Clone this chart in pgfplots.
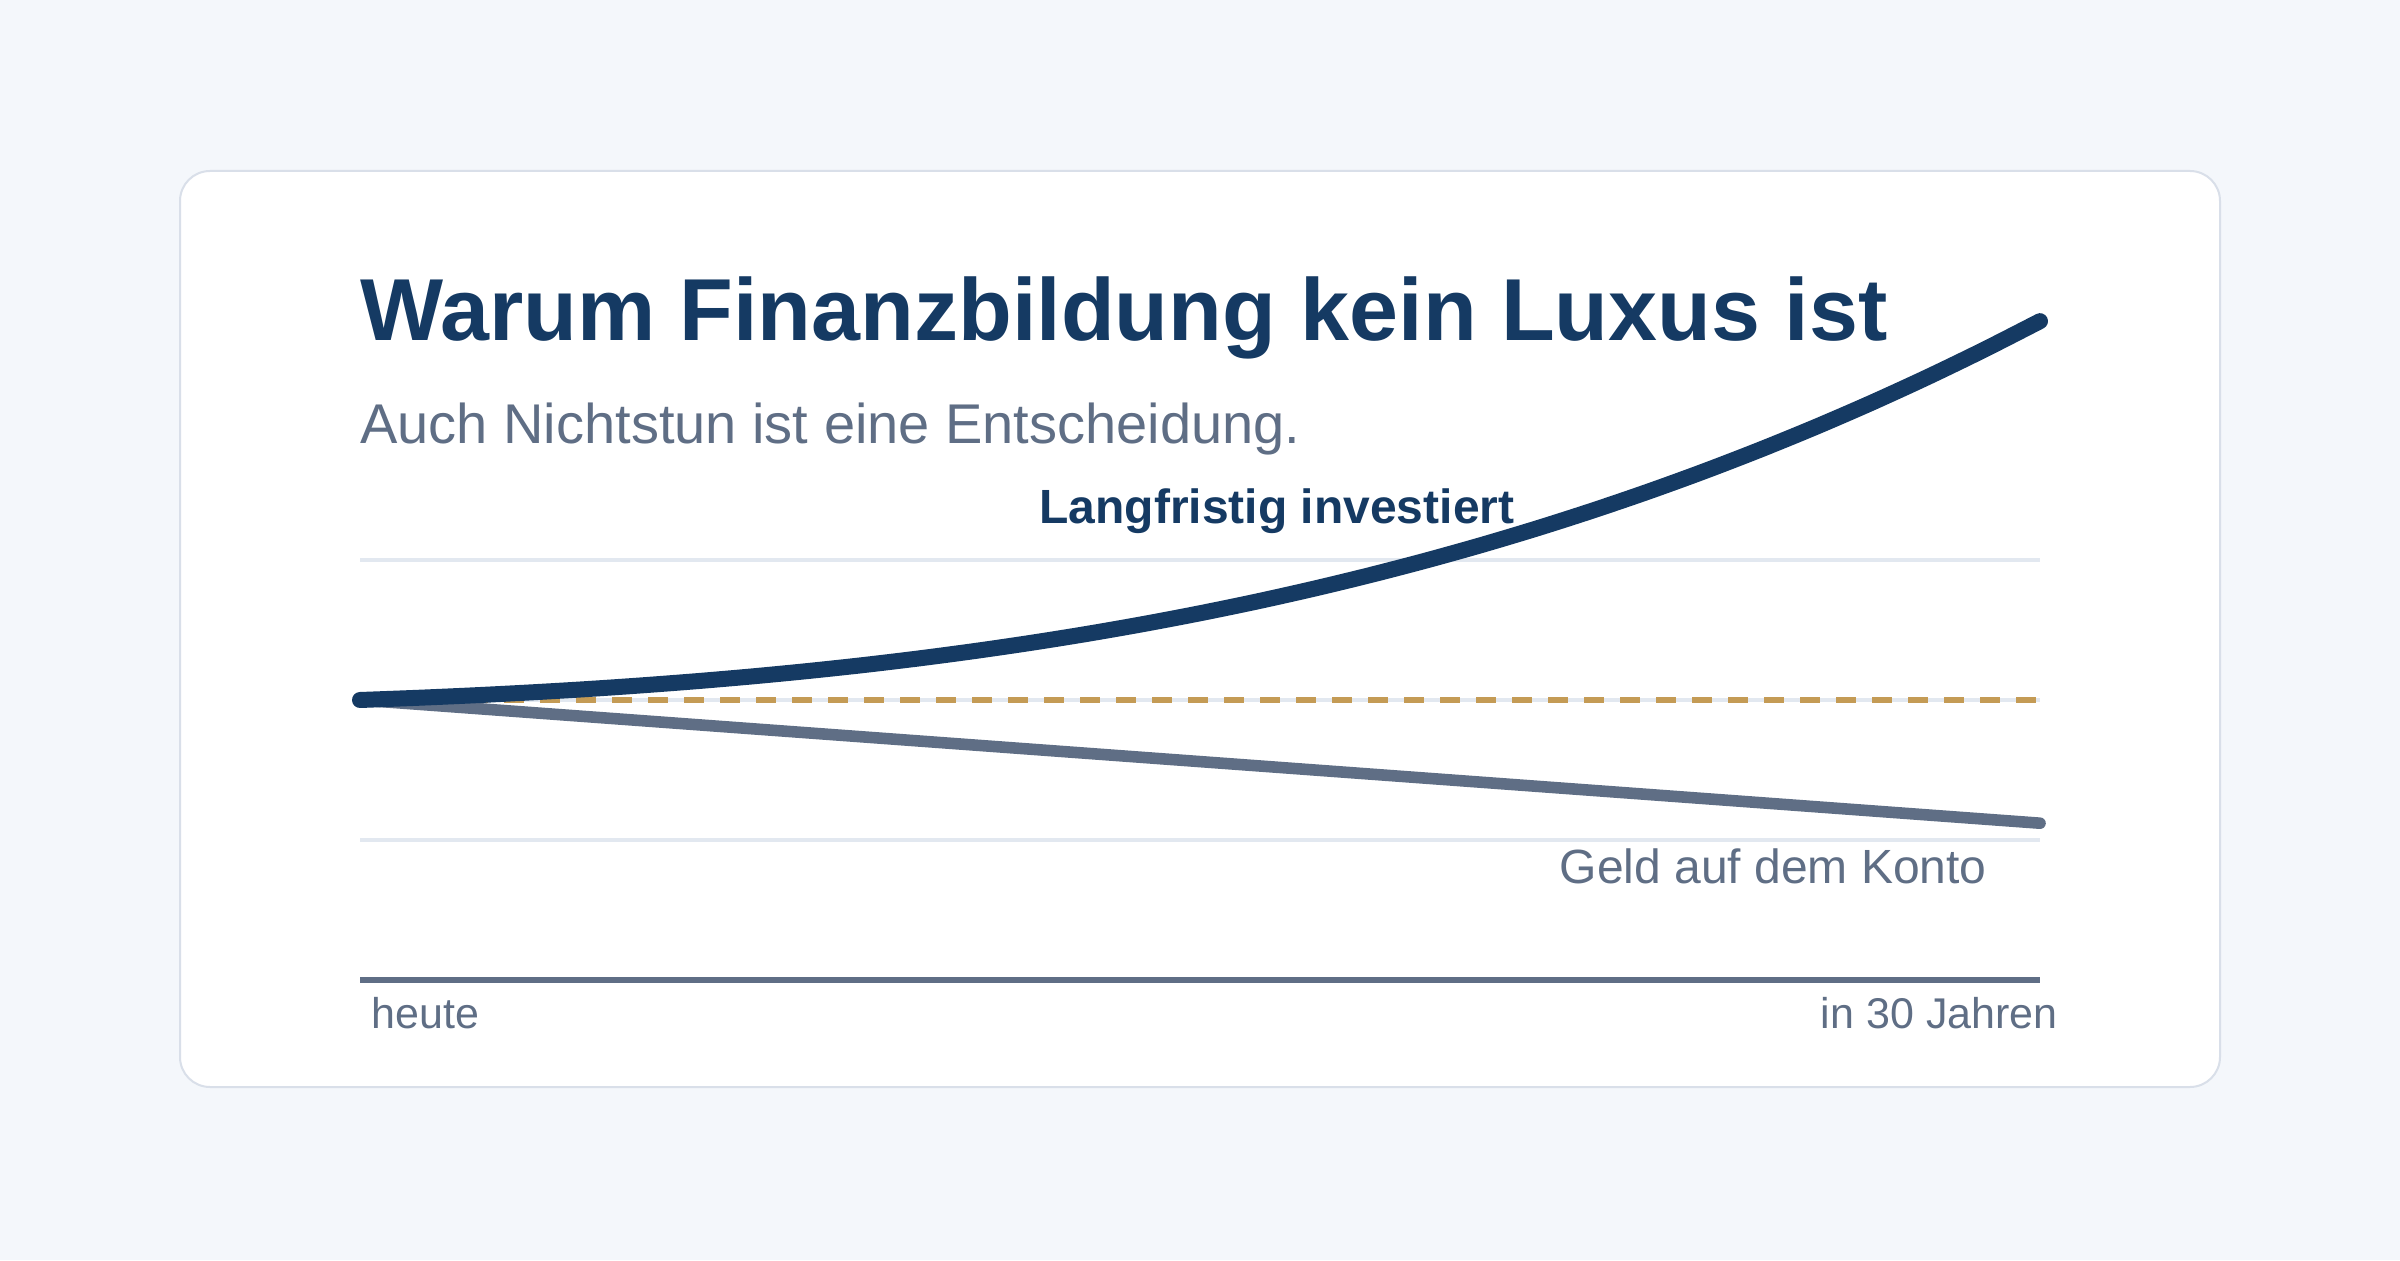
\documentclass[border=0pt]{standalone}
\usepackage{pgfplots}
\pgfplotsset{compat=1.18}
\usepackage{fontspec}
\setmainfont{Liberation Sans}
\definecolor{bgcol}{HTML}{F4F7FB}
\definecolor{cardborder}{HTML}{D9DFE9}
\definecolor{navy}{HTML}{153A63}
\definecolor{slate}{HTML}{5F6E85}
\definecolor{gold}{HTML}{C49B55}
\definecolor{gridc}{HTML}{E2E8F0}
\begin{document}
\begin{tikzpicture}[x=0.5pt,y=0.5pt]
\path[use as bounding box] (0,0) rectangle (2400,1260);
\fill[bgcol] (0,0) rectangle (2400,1260);
\draw[cardborder, line width=1pt, fill=white, rounded corners=15pt] (180,173) rectangle (2220,1089);
\node[anchor=base west, inner sep=0, text=navy, font=\fontsize{44}{52}\selectfont\bfseries] at (360,919) {Warum Finanzbildung kein Luxus ist};
\node[anchor=base west, inner sep=0, text=slate, font=\fontsize{28}{34}\selectfont] at (360,816) {Auch Nichtstun ist eine Entscheidung.};
\begin{axis}[
  at={(180pt,140pt)}, anchor=south west,
  scale only axis, width=840pt, height=350pt,
  xmin=0, xmax=30, ymin=0, ymax=250,
  hide axis, clip=false,
]
\addplot[gridc, line width=2pt] coordinates {(0,50) (30,50)};
\addplot[gridc, line width=2pt] coordinates {(0,100) (30,100)};
\addplot[gridc, line width=2pt] coordinates {(0,150) (30,150)};
\addplot[slate, line width=3pt] coordinates {(0,0) (30,0)};
\addplot[gold, line width=3pt, dash pattern=on 10pt off 8pt] coordinates {(0,100) (30,100)};
\addplot[slate, line width=5.8pt, line cap=round] coordinates {(0,100) (30,56)};
\addplot[navy, line width=8pt, line cap=round, line join=round, smooth] coordinates {
(0,100.00) (1,100.76) (2,101.64) (3,102.66) (4,103.83) (5,105.18)
(6,106.70) (7,108.42) (8,110.35) (9,112.50) (10,114.90)
(11,117.55) (12,120.47) (13,123.67) (14,127.17) (15,130.98)
(16,135.11) (17,139.59) (18,144.42) (19,149.62) (20,155.20)
(21,161.18) (22,167.58) (23,174.40) (24,181.66) (25,189.38)
(26,197.56) (27,206.23) (28,215.40) (29,225.09) (30,235.30)};
\end{axis}
\node[anchor=base, inner sep=0, text=navy, font=\fontsize{24}{28}\selectfont\bfseries] at (1277,736) {Langfristig investiert};
\node[anchor=base east, inner sep=0, text=slate, font=\fontsize{24}{28}\selectfont] at (1987,377) {Geld auf dem Konto};
\node[anchor=base west, inner sep=0, text=slate, font=\fontsize{21.5}{26}\selectfont] at (371,232) {heute};
\node[anchor=base east, inner sep=0, text=slate, font=\fontsize{21.5}{26}\selectfont] at (2058,232) {in 30 Jahren};
\end{tikzpicture}
\end{document}
